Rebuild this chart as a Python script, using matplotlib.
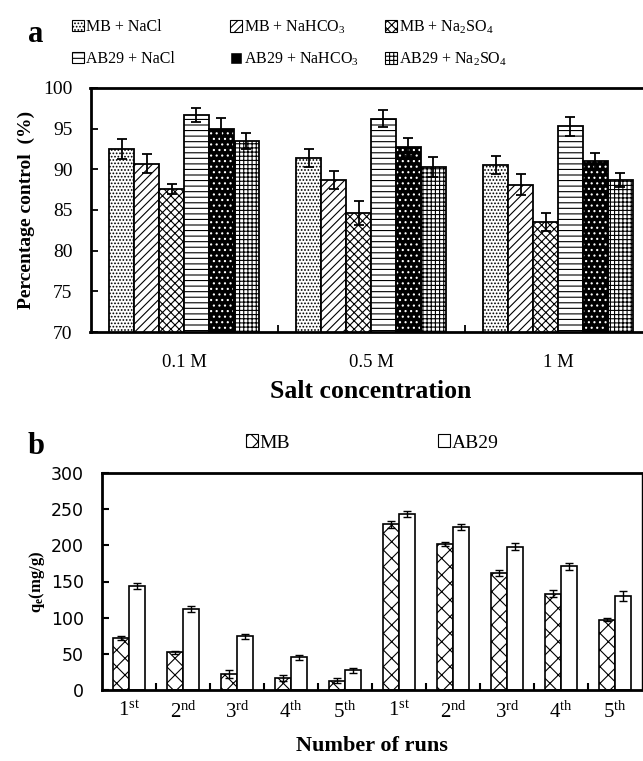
import numpy as np
import matplotlib
matplotlib.use('Agg')
import matplotlib.pyplot as plt
from matplotlib.patches import Patch

plt.rcParams['font.family'] = ['Liberation Serif', 'DejaVu Serif']
plt.rcParams['mathtext.fontset'] = 'custom'
plt.rcParams['mathtext.rm'] = 'Liberation Serif'
plt.rcParams['mathtext.it'] = 'Liberation Serif'
plt.rcParams['mathtext.bf'] = 'Liberation Serif:bold'
plt.rcParams['mathtext.default'] = 'regular'
plt.rcParams['hatch.linewidth'] = 0.8

# ---- panel a data ----
conc = ['0.1 M', '0.5 M', '1 M']
series_a = ['MB + NaCl', r'MB + NaHCO$_3$', r'MB + Na$_2$SO$_4$',
            'AB29 + NaCl', r'AB29 + NaHCO$_3$', r'AB29 + Na$_2$SO$_4$']
mb_nacl = [92.5, 91.4, 90.5]
mb_nahco3 = [90.7, 88.7, 88.1]
mb_na2so4 = [87.6, 84.6, 83.5]
ab_nacl = [96.7, 96.2, 95.3]
ab_nahco3 = [94.9, 92.8, 91.0]
ab_na2so4 = [93.5, 90.3, 88.7]
err_mb_nacl = [1.25, 1.1, 1.1]
err_mb_nahco3 = [1.2, 1.1, 1.3]
err_mb_na2so4 = [0.6, 1.5, 1.1]
err_ab_nacl = [0.9, 1.05, 1.15]
err_ab_nahco3 = [1.4, 1.1, 1.0]
err_ab_na2so4 = [1.0, 1.2, 0.9]

# ---- panel b data ----
runs = ['1$^{st}$', '2$^{nd}$', '3$^{rd}$', '4$^{th}$', '5$^{th}$'] * 2
q_mb = [72, 52, 22, 17, 13, 229, 202, 162, 133, 97]
q_ab = [144, 112, 74, 45, 27, 243, 225, 198, 171, 130]
err_q_mb = [3, 2, 5, 4, 3, 5, 3, 4, 5, 2]
err_q_ab = [4, 4, 4, 3, 4, 4, 4, 5, 5, 7]

fig = plt.figure(figsize=(6.43, 7.61), dpi=100)

# ================= panel a =================
ax = fig.add_axes([90.5/643, 1 - 332/761, 561/643, 244/761])
vals = [mb_nacl, mb_nahco3, mb_na2so4, ab_nacl, ab_nahco3, ab_na2so4]
errs = [err_mb_nacl, err_mb_nahco3, err_mb_na2so4, err_ab_nacl, err_ab_nahco3, err_ab_na2so4]
hatches = ['.....', '////', 'xxxx', '---', '...', '++++']
x = np.arange(len(conc))
w = 0.133
handles = []
for i, (v, e, h) in enumerate(zip(vals, errs, hatches)):
    pos = x + (i - 2.5) * w
    if i == 4:
        ax.bar(pos, v, w, color='black', edgecolor='white', hatch=h, linewidth=0, zorder=2)
        ax.bar(pos, v, w, fill=False, edgecolor='black', linewidth=1.3, zorder=3)
        handles.append(Patch(facecolor='black', edgecolor='white', hatch='.'))
    else:
        ax.bar(pos, v, w, color='white', edgecolor='black', hatch=h, linewidth=1.3, zorder=2)
        handles.append(Patch(facecolor='white', edgecolor='black', hatch=h, linewidth=0.8))
    ax.errorbar(pos, v, yerr=e, fmt='none', ecolor='black', elinewidth=1.3,
                capsize=3.5, capthick=1.3, zorder=4)

ax.set_ylim(70, 100)
ax.set_xlim(-0.5, 2.5)
ax.set_yticks(np.arange(70, 101, 5))
ax.set_xticks(x)
ax.set_xticklabels(conc, fontsize=13.5)
ax.set_xticks([0.5, 1.5], minor=True)
ax.tick_params(axis='x', which='major', length=0, pad=16)
ax.tick_params(axis='x', which='minor', direction='in', length=5, width=1.3)
ax.tick_params(axis='y', direction='in', length=5, width=1.3, labelsize=14, pad=13)
for s in ['top', 'bottom', 'left']:
    ax.spines[s].set_linewidth(2)
ax.spines['right'].set_visible(False)
ax.set_xlabel('Salt concentration', fontsize=18.5, fontweight='bold', labelpad=6)
ax.set_ylabel('Percentage control  (%)', fontsize=14, fontweight='bold', labelpad=6)

# legend entries placed one by one
leg_pos = [(72, 27), (230, 27), (385, 27), (72, 59), (230, 59), (385, 59)]
for hnd, lab, (px, py) in zip(handles, series_a, leg_pos):
    lg = fig.legend([hnd], [lab], loc='center left',
                    bbox_to_anchor=(px/643, 1 - py/761), frameon=False,
                    fontsize=11.5, handlelength=0.75, handleheight=0.75,
                    handletextpad=0.1, borderpad=0, borderaxespad=0)

fig.text(28/643, 1 - 35/761, 'a', fontsize=22, fontweight='bold', va='center')

# ================= panel b =================
bx = fig.add_axes([102/643, 1 - 690/761, 540/643, 217/761])
xb = np.arange(len(runs))
wb = 0.29
b1 = bx.bar(xb - wb/2, q_mb, wb, color='white', edgecolor='black', hatch='xx',
            linewidth=1.2, zorder=2)
b2 = bx.bar(xb + wb/2, q_ab, wb, color='white', edgecolor='black',
            linewidth=1.2, zorder=2)
bx.errorbar(xb - wb/2, q_mb, yerr=err_q_mb, fmt='none', ecolor='black',
            elinewidth=1, capsize=3, capthick=1, zorder=3)
bx.errorbar(xb + wb/2, q_ab, yerr=err_q_ab, fmt='none', ecolor='black',
            elinewidth=1, capsize=3, capthick=1, zorder=3)
bx.set_ylim(0, 300)
bx.set_xlim(-0.5, 9.5)
bx.set_yticks(np.arange(0, 301, 50))
bx.set_yticklabels([str(v) for v in range(0, 301, 50)], family='DejaVu Sans', fontsize=12.5)
bx.set_xticks(xb)
bx.set_xticklabels(runs, fontsize=15)
bx.set_xticks(np.arange(0.5, 9, 1), minor=True)
bx.tick_params(axis='x', which='major', length=0, pad=8)
bx.tick_params(axis='x', which='minor', direction='in', length=5, width=1.5)
bx.tick_params(axis='y', direction='in', length=5, width=1.5, pad=13)
for s in ['top', 'bottom', 'left']:
    bx.spines[s].set_linewidth(2)
bx.spines['right'].set_linewidth(1)
bx.set_xlabel('Number of runs', fontsize=16, fontweight='bold', labelpad=10)
bx.set_ylabel('q$_e$(mg/g)', fontsize=12, fontweight='bold', labelpad=3)

fig.legend([Patch(facecolor='white', edgecolor='black', hatch='xx', linewidth=0.8)], ['MB'],
           loc='center left', bbox_to_anchor=(246/643, 1 - 443/761), frameon=False,
           fontsize=14, handlelength=0.6, handleheight=0.6, handletextpad=0.1,
           borderpad=0, borderaxespad=0)
fig.legend([Patch(facecolor='white', edgecolor='black', linewidth=0.8)], ['AB29'],
           loc='center left', bbox_to_anchor=(438/643, 1 - 443/761), frameon=False,
           fontsize=14, handlelength=0.6, handleheight=0.6, handletextpad=0.1,
           borderpad=0, borderaxespad=0)

fig.text(28/643, 1 - 447/761, 'b', fontsize=22, fontweight='bold', va='center')

fig.savefig('out.png', dpi=100)
